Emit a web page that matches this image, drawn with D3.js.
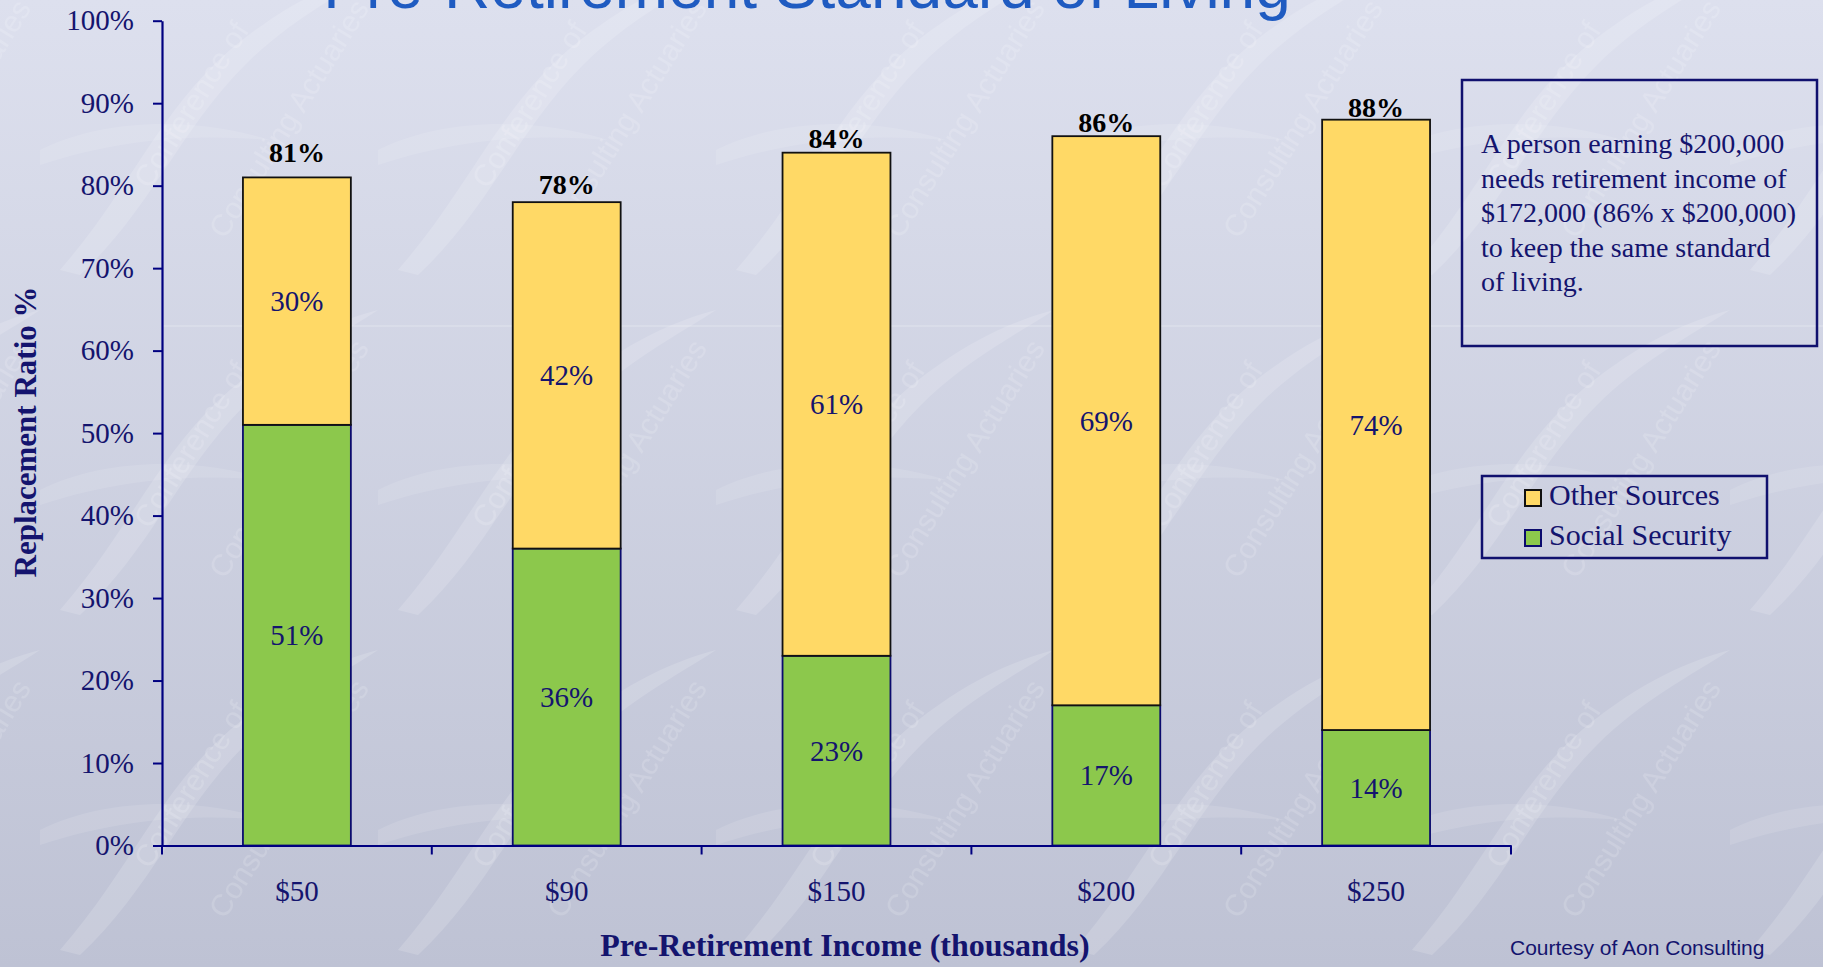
<!DOCTYPE html>
<html>
<head>
<meta charset="utf-8">
<script src="https://cdn.jsdelivr.net/npm/d3@7/dist/d3.min.js"></script>
<style>
  html, body { margin: 0; padding: 0; background: #d3d6e6; }
  svg { display: block; }
</style>
</head>
<body>
<svg id="chart" width="1823" height="967"></svg>
<script>
// ---- data ----
const incomeLabels = ["$50", "$90", "$150", "$200", "$250"];
const socialSecurity = [0.51, 0.36, 0.23, 0.17, 0.14];
const otherSources = [0.30, 0.42, 0.61, 0.69, 0.74];
const totals = [0.81, 0.78, 0.84, 0.86, 0.88];
const yTicks = [0, 0.1, 0.2, 0.3, 0.4, 0.5, 0.6, 0.7, 0.8, 0.9, 1.0];
const seriesNames = ["Other Sources", "Social Security"];
const noteLines = [
  "A person earning $200,000",
  "needs retirement income of",
  "$172,000 (86% x $200,000)",
  "to keep the same standard",
  "of living."
];

// layout: gap (px) between each bar top and its total label
const totalLabelGap = [15, 8, 5, 4, 3];

const W = 1823, H = 967;
const navy = "#000080";
const textNavy = "#14146e";
const serif = "'Liberation Serif', 'Times New Roman', serif";
const sans = "'Liberation Sans', Arial, sans-serif";
const colors = { social: "#8cc84c", other: "#ffd966" };
const strokes = { social: "#0b0b6e", other: "#111111" };

const svg = d3.select("#chart");
const defs = svg.append("defs");

// ---- background ----
const bg = defs.append("linearGradient").attr("id", "bg").attr("x1", 0).attr("y1", 0).attr("x2", 0).attr("y2", 1);
bg.append("stop").attr("offset", "0%").attr("stop-color", "#dde0ee");
bg.append("stop").attr("offset", "100%").attr("stop-color", "#bec2d4");
svg.append("rect").attr("width", W).attr("height", H).attr("fill", "url(#bg)");

// faint repeating watermark of swooshes and lettering
const pat = defs.append("pattern").attr("id", "wm").attr("patternUnits", "userSpaceOnUse")
  .attr("width", 338).attr("height", 340).attr("x", 40).attr("y", -60);
pat.append("path")
  .attr("d", "M20,330 C90,250 120,170 190,110 C250,60 300,40 338,30 C300,55 250,80 205,125 C140,190 110,270 40,335 Z")
  .attr("fill", "#ffffff").attr("opacity", 0.15);
pat.append("path")
  .attr("d", "M0,210 C60,180 150,175 230,200 C170,195 90,195 0,225 Z")
  .attr("fill", "#ffffff").attr("opacity", 0.11);
pat.append("text").attr("transform", "translate(110,250) rotate(-58)")
  .attr("font-family", sans).attr("font-size", 30).attr("fill", "#ffffff").attr("opacity", 0.15)
  .text("Conference of");
pat.append("text").attr("transform", "translate(185,300) rotate(-58)")
  .attr("font-family", sans).attr("font-size", 30).attr("fill", "#ffffff").attr("opacity", 0.15)
  .text("Consulting Actuaries");
svg.append("rect").attr("width", W).attr("height", H).attr("fill", "url(#wm)");
// faint seam line in the backdrop
svg.append("line").attr("x1", 163).attr("x2", W).attr("y1", 326).attr("y2", 326)
  .attr("stroke", "#ffffff").attr("stroke-opacity", 0.35).attr("stroke-width", 1);

// ---- title (runs off the top edge) ----
svg.append("text")
  .attr("x", 807).attr("y", 8)
  .attr("text-anchor", "middle")
  .attr("font-family", sans).attr("font-size", 64)
  .attr("fill", "#1f5bc1")
  .text("Pre-Retirement Standard of Living");

// ---- scales ----
const x0 = 162, x1 = 1511, yBottom = 845.5, yTop = 20.7;
const x = d3.scaleBand().domain(incomeLabels).range([x0, x1]).paddingInner(0.6).paddingOuter(0.3);
const y = d3.scaleLinear().domain([0, 1]).range([yBottom, yTop]);

const rows = incomeLabels.map((lab, i) => ({ label: lab, social: socialSecurity[i], other: otherSources[i], total: totals[i], gap: totalLabelGap[i] }));
const stacked = d3.stack().keys(["social", "other"])(rows);

// ---- bars ----
const g = svg.append("g");
stacked.forEach(layer => {
  const key = layer.key;
  g.append("g").selectAll("rect").data(layer).join("rect")
    .attr("x", d => x(d.data.label))
    .attr("width", x.bandwidth())
    .attr("y", d => y(d[1]))
    .attr("height", d => y(d[0]) - y(d[1]))
    .attr("fill", colors[key])
    .attr("stroke", strokes[key])
    .attr("stroke-width", 1.8);
});

// segment value labels
stacked.forEach(layer => {
  const key = layer.key;
  g.append("g").selectAll("text").data(layer).join("text")
    .attr("x", d => x(d.data.label) + x.bandwidth() / 2)
    .attr("y", d => y((d[0] + d[1]) / 2))
    .attr("text-anchor", "middle")
    .attr("dominant-baseline", "central")
    .attr("font-family", serif).attr("font-size", 29)
    .attr("fill", textNavy)
    .text(d => d3.format(".0%")(d.data[key]));
});

// totals above bars
g.append("g").selectAll("text").data(rows).join("text")
  .attr("x", d => x(d.label) + x.bandwidth() / 2)
  .attr("y", d => y(d.total) - d.gap)
  .attr("text-anchor", "middle")
  .attr("font-family", serif).attr("font-size", 28).attr("font-weight", "bold")
  .attr("fill", "#000000")
  .text(d => d3.format(".0%")(d.total));

// ---- axes ----
const yAxis = svg.append("g").attr("transform", `translate(${x0},0)`)
  .call(d3.axisLeft(y).tickValues(yTicks).tickFormat(d3.format(".0%")).tickSize(9).tickPadding(19).tickSizeOuter(0));
yAxis.select(".domain").attr("stroke", navy).attr("stroke-width", 2.2);
yAxis.selectAll(".tick line").attr("stroke", navy).attr("stroke-width", 2);
yAxis.selectAll(".tick text").attr("font-family", serif).attr("font-size", 29).attr("fill", textNavy);

const xAxis = svg.append("g").attr("transform", `translate(0,${yBottom})`)
  .call(d3.axisBottom(x).tickSize(0).tickPadding(35).tickSizeOuter(0));
xAxis.select(".domain").attr("stroke", navy).attr("stroke-width", 2.2);
xAxis.selectAll(".tick text").attr("font-family", serif).attr("font-size", 29).attr("fill", textNavy);
// category boundary ticks
const step = x.step();
xAxis.append("g").selectAll("line").data(d3.range(incomeLabels.length + 1)).join("line")
  .attr("x1", i => x0 + i * step).attr("x2", i => x0 + i * step)
  .attr("y1", 0).attr("y2", 9)
  .attr("stroke", navy).attr("stroke-width", 2);

// axis titles
svg.append("text")
  .attr("x", 845).attr("y", 956)
  .attr("text-anchor", "middle")
  .attr("font-family", serif).attr("font-size", 32).attr("font-weight", "bold")
  .attr("fill", textNavy)
  .text("Pre-Retirement Income (thousands)");
svg.append("text")
  .attr("transform", "translate(25,432) rotate(-90)")
  .attr("text-anchor", "middle").attr("dominant-baseline", "central")
  .attr("font-family", serif).attr("font-size", 31).attr("font-weight", "bold")
  .attr("fill", textNavy)
  .text("Replacement Ratio %");

// ---- note box ----
svg.append("rect").attr("x", 1462).attr("y", 80).attr("width", 355).attr("height", 266)
  .attr("fill", "none").attr("stroke", "#10106e").attr("stroke-width", 2.5);
svg.append("g").selectAll("text").data(noteLines).join("text")
  .attr("x", 1481).attr("y", (d, i) => 153 + i * 34.6)
  .attr("font-family", serif).attr("font-size", 28)
  .attr("fill", textNavy)
  .text(d => d);

// ---- legend ----
svg.append("rect").attr("x", 1482).attr("y", 476).attr("width", 285).attr("height", 82)
  .attr("fill", "none").attr("stroke", "#10106e").attr("stroke-width", 2.5);
const legendKeys = ["other", "social"];
const lg = svg.append("g").selectAll("g").data(legendKeys).join("g")
  .attr("transform", (d, i) => `translate(1525,${490 + i * 40})`);
lg.append("rect").attr("width", 16).attr("height", 16)
  .attr("fill", d => colors[d]).attr("stroke", d => strokes[d]).attr("stroke-width", 2);
lg.append("text").attr("x", 24).attr("y", 15)
  .attr("font-family", serif).attr("font-size", 30)
  .attr("fill", textNavy)
  .text((d, i) => seriesNames[i]);

// ---- footer ----
svg.append("text").attr("x", 1510).attr("y", 955)
  .attr("font-family", sans).attr("font-size", 21)
  .attr("fill", textNavy)
  .text("Courtesy of Aon Consulting");
</script>
</body>
</html>
